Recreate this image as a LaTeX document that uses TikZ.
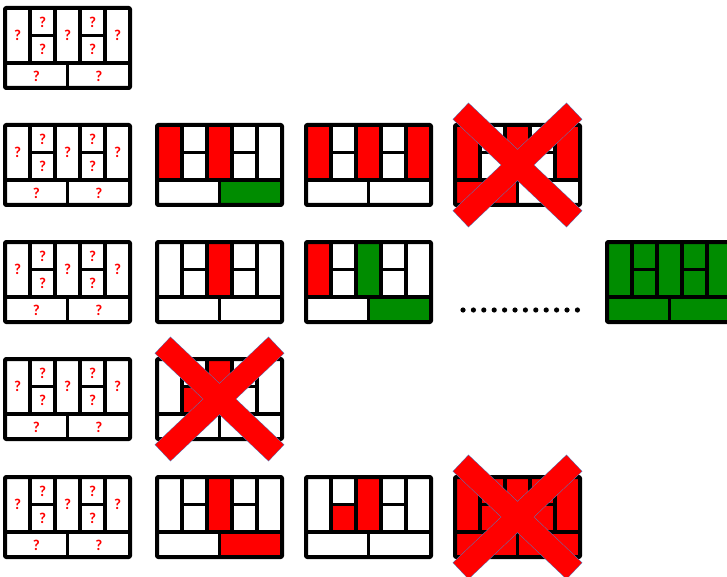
\documentclass[tikz,border=0pt]{standalone}
\usepackage{fontspec}
\newfontfamily\qfont{Carlito}
\definecolor{grn}{RGB}{0,140,0}
\definecolor{xline}{RGB}{85,125,190}
\tikzset{
  x=1pt, y=-1pt,
  pframe/.style={line width=4pt, line join=round, rounded corners=1pt},
  pline/.style={line width=3.6pt},
  qm/.style={text=red, font=\qfont\bfseries\fontsize{15}{15}\selectfont, inner sep=0pt},
  xbar/.style={fill=red, draw=xline, line width=1pt},
  dotm/.style={fill=black}
}
\newcommand\cA[1]{\fill[#1] (0,0) rectangle (25,55);}
\newcommand\cB[1]{\fill[#1] (25,0) rectangle (50,27.5);}
\newcommand\cC[1]{\fill[#1] (25,27.5) rectangle (50,55);}
\newcommand\cD[1]{\fill[#1] (50,0) rectangle (75,55);}
\newcommand\cE[1]{\fill[#1] (75,0) rectangle (100,27.5);}
\newcommand\cF[1]{\fill[#1] (75,27.5) rectangle (100,55);}
\newcommand\cG[1]{\fill[#1] (100,0) rectangle (125,55);}
\newcommand\cH[1]{\fill[#1] (0,55) rectangle (62.5,80);}
\newcommand\cI[1]{\fill[#1] (62.5,55) rectangle (125,80);}
\newcommand\pgrid{%
  \draw[pline] (0,55) -- (125,55) (25,0) -- (25,55) (50,0) -- (50,55)
    (75,0) -- (75,55) (100,0) -- (100,55) (25,27.5) -- (50,27.5)
    (75,27.5) -- (100,27.5) (62.5,55) -- (62.5,80);
  \draw[pframe] (0,0) rectangle (125,80);}
\newcommand\qmarks[1]{%
  \node[qm] (#1a) at (12.5,27.5) {?};
  \node[qm] (#1b) at (37.5,14) {?};
  \node[qm] (#1c) at (37.5,41.5) {?};
  \node[qm] (#1d) at (62.5,27.5) {?};
  \node[qm] (#1e) at (87.5,14) {?};
  \node[qm] (#1f) at (87.5,41.5) {?};
  \node[qm] (#1g) at (112.5,27.5) {?};
  \node[qm] (#1h) at (31.25,68) {?};
  \node[qm] (#1i) at (93.75,68) {?};}
\newcommand\xcross{%
  \begin{scope}[shift={(62.5,40)}]
    \filldraw[xbar, rotate=43.5] (-78,-11) rectangle (78,11);
    \filldraw[xbar, rotate=-43.5] (-78,-11) rectangle (78,11);
    \fill[red, rotate=43.5] (-78,-11) rectangle (78,11);
    \fill[red, rotate=-43.5] (-78,-11) rectangle (78,11);
  \end{scope}}
\begin{document}
\begin{tikzpicture}
\useasboundingbox (0,0) rectangle (727,577);
\fill[white] (0,0) rectangle (727,577);
% column 1: question panels
\foreach \yy/\nm in {8/qa,125/qb,242/qc,359/qd,477/qe}{
  \begin{scope}[shift={(5,\yy)}]
    \pgrid \qmarks{\nm}
  \end{scope}}
% row 2
\begin{scope}[shift={(157,125)}]
  \cA{red}\cD{red}\cI{grn}\pgrid
\end{scope}
\begin{scope}[shift={(306,125)}]
  \cA{red}\cD{red}\cG{red}\pgrid
\end{scope}
\begin{scope}[shift={(455,125)}]
  \cA{red}\cD{red}\cG{red}\cH{red}\pgrid\xcross
\end{scope}
% row 3
\begin{scope}[shift={(157,242)}]
  \cD{red}\pgrid
\end{scope}
\begin{scope}[shift={(306,242)}]
  \cA{red}\cD{grn}\cI{grn}\pgrid
\end{scope}
\foreach \i in {0,...,11}
  \fill[dotm] ({463+\i*10.4},310) circle (2.6);
\begin{scope}[shift={(607,242)}]
  \fill[grn] (0,0) rectangle (125,80);\pgrid
\end{scope}
% row 4
\begin{scope}[shift={(157,359)}]
  \cC{red}\cD{red}\pgrid\xcross
\end{scope}
% row 5
\begin{scope}[shift={(157,477)}]
  \cD{red}\cI{red}\pgrid
\end{scope}
\begin{scope}[shift={(306,477)}]
  \cC{red}\cD{red}\pgrid
\end{scope}
\begin{scope}[shift={(455,477)}]
  \fill[red] (0,0) rectangle (125,80);\pgrid\xcross
\end{scope}
\end{tikzpicture}
\end{document}
